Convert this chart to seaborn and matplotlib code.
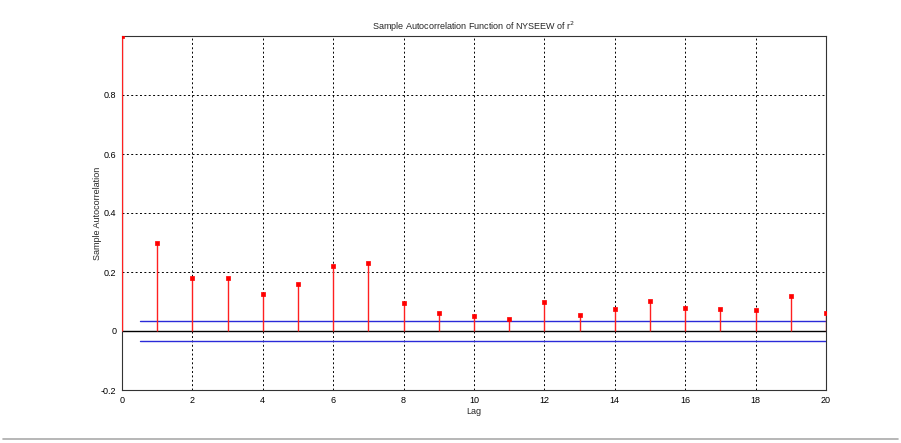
import numpy as np
import pandas as pd
import matplotlib
matplotlib.use("Agg")
import matplotlib.pyplot as plt
import seaborn as sns
from matplotlib.lines import Line2D

lags = list(range(21))
acf = [1.0, 0.297, 0.180, 0.178, 0.125, 0.159, 0.220, 0.230, 0.096, 0.062,
       0.051, 0.039, 0.097, 0.055, 0.076, 0.103, 0.079, 0.076, 0.071, 0.119, 0.062]
bound = 0.035
xticks = [0, 2, 4, 6, 8, 10, 12, 14, 16, 18, 20]
yticks = [-0.2, 0, 0.2, 0.4, 0.6, 0.8]
ytick_labels = ["-0.2", "0", "0.2", "0.4", "0.6", "0.8"]
title = "Sample Autocorrelation Function of NYSEEW of r$^2$"

df = pd.DataFrame({"Lag": lags, "ACF": acf})

sns.set_style("white")
plt.rcParams['font.family'] = ['Liberation Sans', 'DejaVu Sans']

fig = plt.figure(figsize=(9.01, 4.43), dpi=100)
ax = fig.add_axes([122/901, 1-390/443, (826-122)/901, (390-36)/443])

ax.grid(True, color="black", linestyle=(0, (2, 2.5)), linewidth=0.7)
ax.set_axisbelow(True)

ax.vlines(df["Lag"], 0, df["ACF"], color="#ff2020", linewidth=1.0, zorder=3)
sns.scatterplot(data=df, x="Lag", y="ACF", ax=ax, color="red", s=7,
                marker="s", edgecolor="red", linewidth=0.5, zorder=4, legend=False)
ax.axhline(0, color="black", linewidth=1.0, zorder=2)
ax.plot([0.5, 20], [bound, bound], color="#2a2ad8", linewidth=1.0, zorder=2)
ax.plot([0.5, 20], [-bound, -bound], color="#2a2ad8", linewidth=1.0, zorder=2)

ax.set_xlim(0, 20)
ax.set_ylim(-0.2, 1.0)
ax.set_xticks(xticks)
ax.set_xticklabels([str(t) for t in xticks])
ax.set_yticks(yticks)
ax.set_yticklabels(ytick_labels)
ax.tick_params(labelsize=6.5, length=3, direction="in", colors="black", pad=4)
for s in ax.spines.values():
    s.set_color("#333333")
    s.set_linewidth(0.8)

ax.set_xlabel("Lag", fontsize=6.5, labelpad=2)
ax.set_ylabel("Sample Autocorrelation", fontsize=6.5, labelpad=-1)
ax.set_title(title, fontsize=6.5, pad=4)

fig.add_artist(Line2D([3/901, 898/901], [1-439/443, 1-439/443],
                      color="#aaaaaa", linewidth=1.2))

fig.savefig("out.png", dpi=100)
